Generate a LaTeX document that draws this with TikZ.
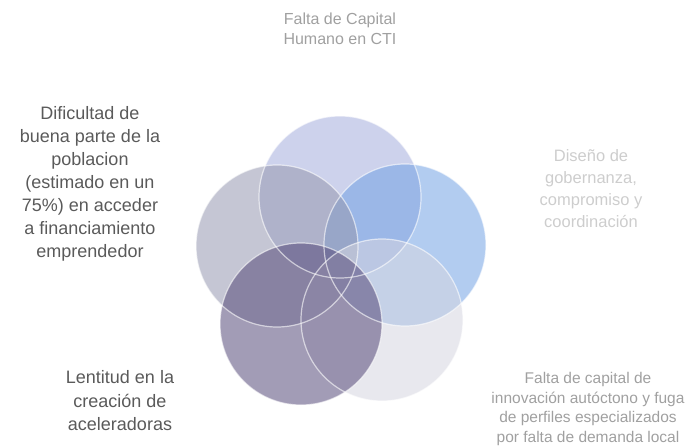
\documentclass[tikz,border=0pt]{standalone}
\usepackage{fontspec}
\setmainfont{Liberation Sans}
\usepackage{xcolor}
\usetikzlibrary{positioning}

\definecolor{cirtop}{RGB}{164,173,220}
\definecolor{cirright}{RGB}{115,162,228}
\definecolor{cirleft}{RGB}{150,152,176}
\definecolor{cirbotleft}{RGB}{86,74,122}
\definecolor{cirbotright}{RGB}{213,213,224}
\definecolor{txtdark}{RGB}{90,90,90}
\definecolor{txtmid}{RGB}{160,160,160}
\definecolor{txtlight}{RGB}{205,205,205}

\tikzset{
  label/.style={align=center, inner sep=0pt},
  disc/.style={fill opacity=0.55},
  rim/.style={draw=white, line width=1.2pt, draw opacity=0.6}
}

\begin{document}
\begin{tikzpicture}[x=1pt, y=-1pt]
			\def\r{81pt};
			
			\useasboundingbox (0,0) rectangle (693,446);
			
			% circles
			\fill[disc, cirtop] (340,197) circle [radius=\r];
			\fill[disc, cirright] (405,245) circle [radius=\r];
			\fill[disc, cirleft] (277,246) circle [radius=\r];
			\fill[disc, cirbotright] (382,320) circle [radius=\r];
			\fill[disc, cirbotleft] (301,324) circle [radius=\r];
			
			\draw[rim] (340,197) circle [radius=\r];
			\draw[rim] (405,245) circle [radius=\r];
			\draw[rim] (277,246) circle [radius=\r];
			\draw[rim] (382,320) circle [radius=\r];
			\draw[rim] (301,324) circle [radius=\r];
			
			% texts
			\node[label, font=\fontsize{16}{20}\selectfont, text=txtmid] (capital) at (340,29)
				{Falta de Capital\\Humano en CTI};
			\node[label, font=\fontsize{16.5}{22}\selectfont, text=txtlight] (gobernanza) at (591,189)
				{Diseño de\\gobernanza,\\compromiso y\\coordinación};
			\node[label, font=\fontsize{18}{23}\selectfont, text=txtdark] (financiamiento) at (90,184)
				{Dificultad de\\buena parte de la\\poblacion\\(estimado en un\\75\%) en acceder\\a financiamiento\\emprendedor};
			\node[label, font=\fontsize{18}{23.5}\selectfont, text=txtdark] (aceleradoras) at (120,401)
				{Lentitud en la\\creación de\\aceleradoras};
			\node[label, font=\fontsize{15.5}{19.5}\selectfont, text=txtmid] (innovacion) at (588,409)
				{Falta de capital de\\innovación autóctono y fuga\\de perfiles especializados\\por falta de demanda local};
		\end{tikzpicture}
\end{document}
